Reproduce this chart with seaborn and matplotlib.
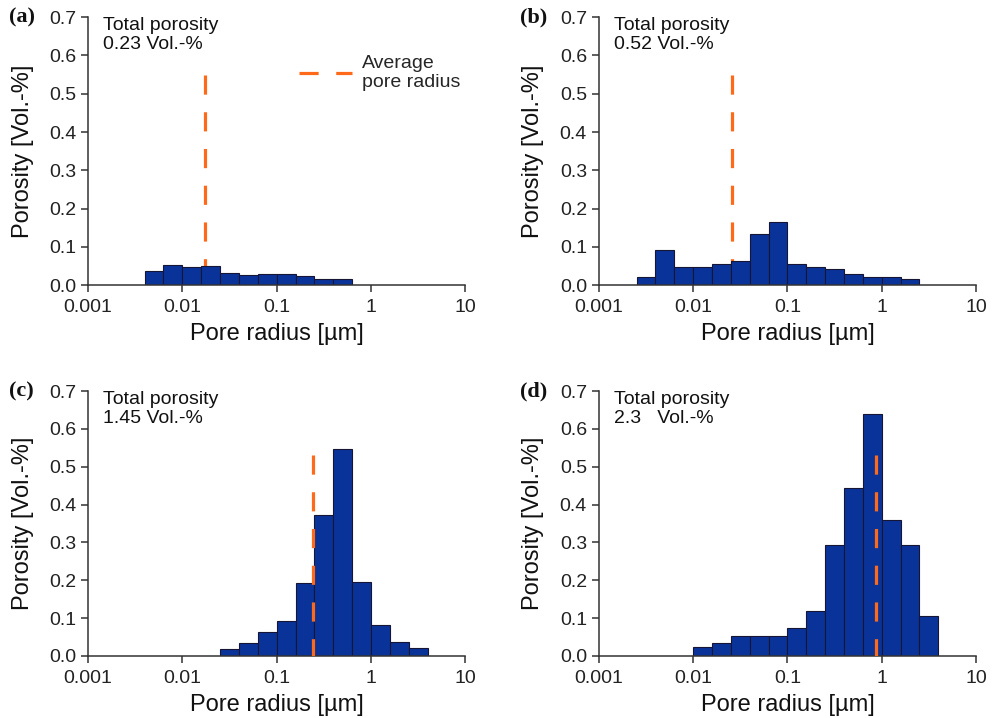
import numpy as np
import pandas as pd
import seaborn as sns
import matplotlib.pyplot as plt
from matplotlib.lines import Line2D

# Bin heights (porosity, Vol.-%) per panel, bins are 0.2 decades wide
heights_a = [0.037, 0.053, 0.047, 0.050, 0.031, 0.027, 0.030, 0.029, 0.023, 0.017, 0.017]
heights_b = [0.022, 0.091, 0.048, 0.048, 0.055, 0.062, 0.133, 0.166, 0.054, 0.048,
             0.041, 0.029, 0.022, 0.022, 0.017]
heights_c = [0.018, 0.033, 0.063, 0.093, 0.192, 0.373, 0.547, 0.195, 0.083, 0.038, 0.022]
heights_d = [0.025, 0.034, 0.053, 0.053, 0.053, 0.073, 0.119, 0.294, 0.445, 0.639,
             0.359, 0.294, 0.106]

# log10 of the first bin edge in each panel
bin_start = {'a': -2.4, 'b': -2.6, 'c': -1.6, 'd': -2.0}
bin_width = 0.2

# average pore radius [um] and top of the dashed marker
avg_radius = {'a': 0.0176, 'b': 0.026, 'c': 0.243, 'd': 0.877}
avg_top = {'a': 0.55, 'b': 0.55, 'c': 0.53, 'd': 0.53}
total_porosity = {'a': '0.23 Vol.-%', 'b': '0.52 Vol.-%', 'c': '1.45 Vol.-%', 'd': '2.3   Vol.-%'}

heights = {'a': heights_a, 'b': heights_b, 'c': heights_c, 'd': heights_d}

sns.set_style('ticks')
plt.rcParams['font.family'] = ['Liberation Sans', 'DejaVu Sans']

bar_color = '#0a3399'
orange = '#ff6a1a'
dash = (0, (6, 5.5))

fig = plt.figure(figsize=(9.98, 7.18), dpi=100)
positions = {'a': [0.0882, 0.603, 0.378, 0.373],
             'b': [0.600, 0.603, 0.378, 0.373],
             'c': [0.0882, 0.0864, 0.378, 0.369],
             'd': [0.600, 0.0864, 0.378, 0.369]}

for key in ['a', 'b', 'c', 'd']:
    ax = fig.add_axes(positions[key])
    h = heights[key]
    n = len(h)
    start = bin_start[key]
    centers = [10 ** (start + bin_width * (i + 0.5)) for i in range(n)]
    df = pd.DataFrame({'radius': centers, 'porosity': h})
    sns.histplot(data=df, x='radius', weights='porosity', log_scale=True,
                 binwidth=bin_width, binrange=(start, start + bin_width * n),
                 color=bar_color, edgecolor='#151535', linewidth=0.8, alpha=1,
                 ax=ax, zorder=2)

    # average pore radius marker: behind the bars in (a), (b), on top in (c), (d)
    z = 1 if key in ['a', 'b'] else 3
    ax.plot([avg_radius[key], avg_radius[key]], [avg_top[key], 0.0],
            color=orange, lw=2.3, linestyle=dash, zorder=z)

    ax.set_xscale('log')
    ax.set_xlim(0.001, 10)
    ax.set_ylim(0, 0.7)
    ax.set_xticks([0.001, 0.01, 0.1, 1, 10])
    ax.set_xticklabels(['0.001', '0.01', '0.1', '1', '10'])
    ax.minorticks_off()
    ax.set_yticks(np.arange(0, 0.71, 0.1))
    ax.set_yticklabels([f'{v:.1f}' for v in np.arange(0, 0.71, 0.1)])
    ax.tick_params(axis='both', labelsize=14, length=5, width=1.1,
                   colors='#333333', labelcolor='#222222', direction='out')
    ax.tick_params(axis='x', pad=5)
    for s in ['left', 'bottom']:
        ax.spines[s].set_color('#333333')
        ax.spines[s].set_linewidth(1.1)
    sns.despine(ax=ax)

    ax.set_xlabel('Pore radius [µm]', fontsize=17, color='#111111', labelpad=5)
    ax.set_ylabel('Porosity [Vol.-%]', fontsize=17, color='#111111', labelpad=11)

    ax.text(0.04, 1.0, 'Total porosity\n' + total_porosity[key], transform=ax.transAxes,
            ha='left', va='top', fontsize=14, color='#111111', linespacing=1.15)
    ax.text(-0.21, 1.0, f'({key})', transform=ax.transAxes, ha='left', va='center',
            fontsize=16, fontweight='bold', family='Liberation Serif', color='#111111')

    if key == 'a':
        handle = Line2D([], [], color=orange, lw=2.3, linestyle=dash)
        ax.legend([handle], ['Average\npore radius'], loc='upper left',
                  bbox_to_anchor=(0.56, 0.86), frameon=False, fontsize=14,
                  handlelength=2.7, handletextpad=0.5, borderpad=0, borderaxespad=0)

fig.savefig('out.png', dpi=100)
